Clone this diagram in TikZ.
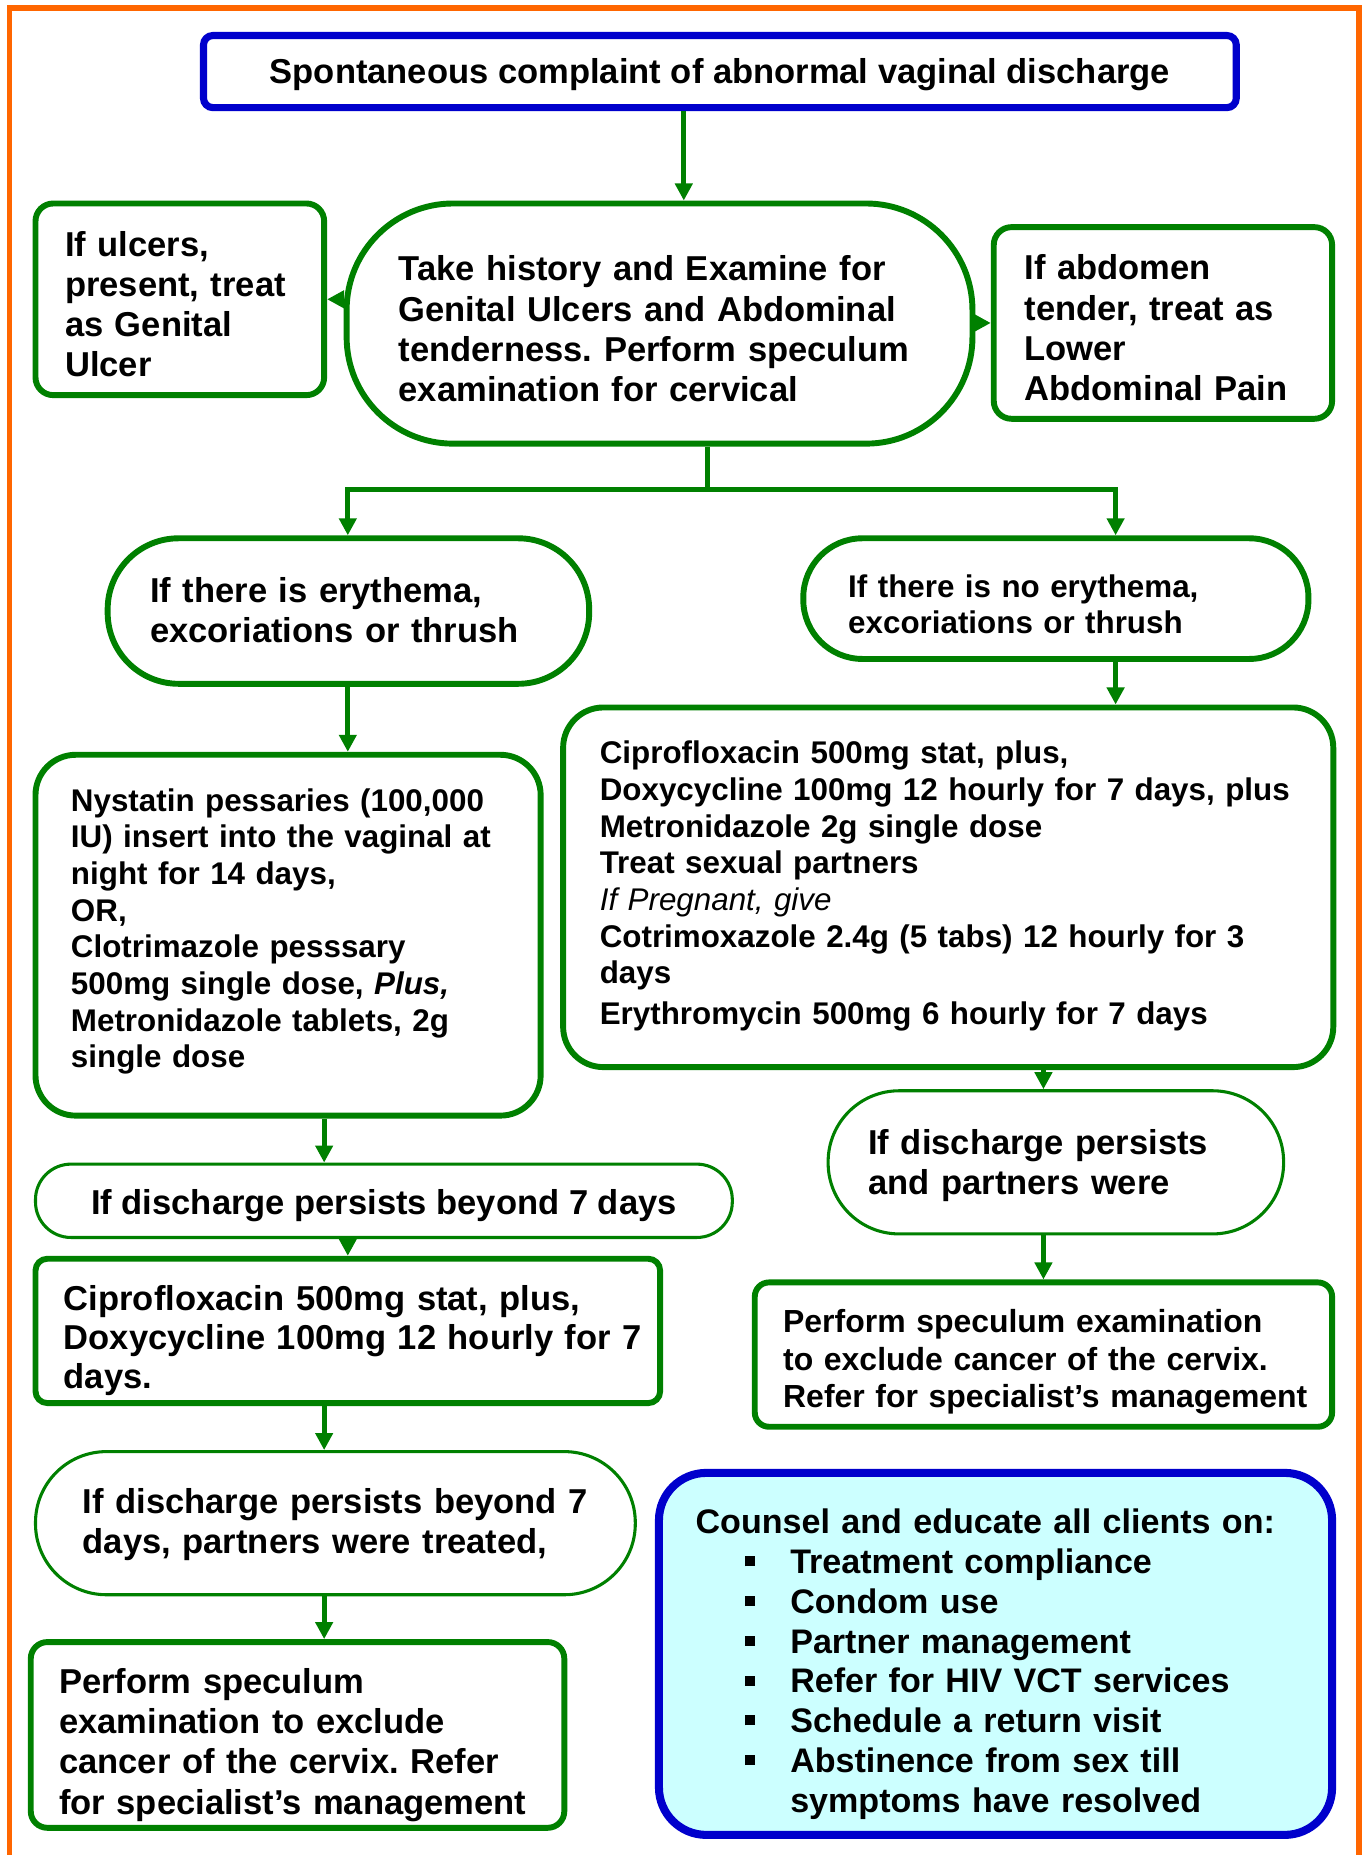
\documentclass[tikz,border=0pt]{standalone}
\usepackage{fontspec}
\setmainfont{Liberation Sans}
\usetikzlibrary{arrows.meta}
\definecolor{dgreen}{HTML}{008000}
\definecolor{dblue}{HTML}{0000CC}
\definecolor{lcyan}{HTML}{CCFFFF}
\definecolor{frameor}{HTML}{FF6600}
\newcommand\FBig{\fontsize{14.6}{17}\selectfont\bfseries}
\newcommand\FSml{\fontsize{13.25}{15.5}\selectfont\bfseries}
\newcommand\Bul{\hspace*{21pt}\makebox[19pt][l]{\rule[3pt]{4pt}{4.3pt}}}
\newcommand\Lines[1]{\begin{tabular}[t]{@{}l@{}}#1\end{tabular}}
\begin{document}
\frenchspacing
\begin{tikzpicture}[x=0.5pt,y=-0.5pt,
  thickbox/.style={draw=dgreen, line width=2.5pt, align=left, inner ysep=0pt},
  thinbox/.style={draw=dgreen, line width=1.3pt, align=left, inner ysep=0pt},
  conn/.style={draw=dgreen, line width=2pt},
  arr/.style={conn, -{Triangle[length=7.2pt,width=7.2pt]}},
  frame/.style={draw=frameor, line width=2.4pt}
]
\useasboundingbox (0,0) rectangle (1151,1568);
\draw[frame] (8,1580) -- (8,7) -- (1149,7) -- (1149,1580);

\node[draw=dblue, line width=3pt, rounded corners=4pt, minimum width=436.5pt, minimum height=30.5pt, inner sep=0pt, font=\FBig, text height=13.5pt, text depth=3.5pt]
  (A) at (608.5,60.5) {Spontaneous complaint of abnormal vaginal discharge};

\node[thickbox, rounded corners=45pt, minimum width=264.5pt, minimum height=101.5pt, inner xsep=22pt, text width=220.5pt, font=\FBig, text height=18.5pt, text depth=54.5pt]
  (B) at (557.5,273.5) {\Lines{Take history and Examine for\\Genital Ulcers and Abdominal\\tenderness. Perform speculum\\examination for cervical}};

\node[thickbox, rounded corners=7.5pt, minimum width=122pt, minimum height=81pt, inner xsep=12.5pt, text width=97pt, font=\FBig, text height=18pt, text depth=54.5pt]
  (C) at (152,253) {\Lines{If ulcers,\\present, treat\\as Genital\\Ulcer}};

\node[thickbox, rounded corners=7.5pt, minimum width=143pt, minimum height=81pt, inner xsep=13pt, text width=117pt, font=\FBig, text height=18pt, text depth=54.5pt]
  (D) at (983,273) {\Lines{If abdomen\\tender, treat as\\Lower\\Abdominal Pain}};

\node[thickbox, rounded corners=30pt, minimum width=203.5pt, minimum height=61.5pt, inner xsep=18pt, text width=167.5pt, font=\FBig, text height=13.5pt, text depth=20.5pt]
  (E) at (294.5,516.5) {\Lines{If there is erythema,\\excoriations or thrush}};

\node[thickbox, rounded corners=25pt, minimum width=213.5pt, minimum height=51pt, inner xsep=19pt, text width=175.5pt, font=\FSml, text height=17.7pt, text depth=19pt]
  (F) at (892.5,506) {\Lines{If there is no erythema,\\excoriations or thrush}};

\node[thickbox, rounded corners=17pt, minimum width=213.5pt, minimum height=152.5pt, inner xsep=15pt, text width=183.5pt, font=\FSml, text height=7.2pt, text depth=112pt]
  (G) at (243.5,790.5) {\Lines{Nystatin pessaries (100,000\\IU) insert into the vaginal at\\night for 14 days,\\OR,\\Clotrimazole pesssary\\500mg single dose, \textit{Plus,}\\Metronidazole tablets, 2g\\single dose}};

\node[thickbox, rounded corners=17pt, minimum width=325.5pt, minimum height=152pt, inner xsep=15.5pt, text width=294.5pt, font=\FSml, text height=9.2pt, text depth=113.5pt]
  (H) at (801.5,750) {\Lines{Ciprofloxacin 500mg stat, plus,\\Doxycycline 100mg 12 hourly for 7 days, plus\\Metronidazole 2g single dose\\Treat sexual partners\\{\mdseries\itshape If Pregnant, give}\\Cotrimoxazole 2.4g (5 tabs) 12 hourly for 3\\days\\[1.5pt]Erythromycin 500mg 6 hourly for 7 days}};

\node[thinbox, rounded corners=30pt, minimum width=192.5pt, minimum height=60.5pt, inner xsep=17pt, text width=158.5pt, font=\FBig, text height=13.5pt, text depth=20.5pt]
  (I) at (892.5,982.5) {\Lines{If discharge persists\\and partners were}};

\node[thickbox, rounded corners=6pt, minimum width=244pt, minimum height=61pt, inner xsep=12pt, text width=220pt, font=\fontsize{13.5}{15.75}\selectfont\bfseries, text height=16.7pt, text depth=35pt]
  (J) at (882,1145) {\Lines{Perform speculum examination\\to exclude cancer of the cervix.\\Refer for specialist’s management}};

\node[thinbox, rounded corners=15pt, minimum width=294.5pt, minimum height=31pt, inner xsep=0pt, align=center, font=\FBig, text height=15pt, text depth=3.5pt]
  (K) at (324.5,1015) {If discharge persists beyond 7 days};

\node[thickbox, rounded corners=5pt, minimum width=264pt, minimum height=61pt, inner xsep=12pt, text width=240pt, font=\fontsize{14.6}{16.5}\selectfont\bfseries, text height=19pt, text depth=36.5pt]
  (L) at (294,1125) {\Lines{Ciprofloxacin 500mg stat, plus,\\Doxycycline 100mg 12 hourly for 7\\days.}};

\node[thinbox, rounded corners=30pt, minimum width=253.5pt, minimum height=60.5pt, inner xsep=20pt, text width=213.5pt, font=\FBig, text height=12.5pt, text depth=20.5pt]
  (M) at (283.5,1287.5) {\Lines{If discharge persists beyond 7\\days, partners were treated,}};

\node[thickbox, rounded corners=7pt, minimum width=225.5pt, minimum height=78.5pt, inner xsep=12pt, text width=201.5pt, font=\FBig, text height=19.5pt, text depth=54.5pt]
  (N) at (251.5,1466.5) {\Lines{Perform speculum\\examination to exclude\\cancer of the cervix. Refer\\for specialist’s management}};

\node[draw=dblue, fill=lcyan, line width=3.4pt, rounded corners=20pt, minimum width=284.5pt, minimum height=153pt, inner xsep=15.5pt, inner ysep=0pt, text width=253.5pt, align=left, font=\fontsize{14.4}{16.8}\selectfont\bfseries, text height=19.6pt, text depth=121.1pt]
  (O) at (841.5,1398) {\Lines{Counsel and educate all clients on:\\\Bul Treatment compliance\\\Bul Condom use\\\Bul Partner management\\\Bul Refer for HIV VCT services\\\Bul Schedule a return visit\\\Bul Abstinence from sex till\\\hspace*{40pt}symptoms have resolved}};

% connectors
\coordinate (topx) at (578,0);
\coordinate (split) at (598,414);
\coordinate (lb) at (294,414);
\coordinate (rb) at (943,414);
\coordinate (rx) at (882,0);
\coordinate (lx) at (274,0);

\draw[arr] (A.south -| topx) -- (B.north -| topx);
\draw[arr] (B.west |- C.east) -- (C.east);
\draw[arr] (B.east |- D.west) -- (D.west);
\draw[conn] (B.south -| split) -- (split);
\draw[arr] (split) -| (E.north -| lb);
\draw[arr] (split) -| (F.north -| rb);
\draw[arr] (E.south -| lb) -- (G.north -| lb);
\draw[arr] (F.south -| rb) -- (H.north -| rb);
\draw[arr] (H.south -| rx) -- (I.north -| rx);
\draw[arr] (I.south -| rx) -- (J.north -| rx);
\draw[arr] (G.south -| lx) -- (K.north -| lx);
\draw[arr] (K.south -| lb) -- (L.north -| lb);
\draw[arr] (L.south -| lx) -- (M.north -| lx);
\draw[arr] (M.south -| lx) -- (N.north -| lx);
\end{tikzpicture}
\end{document}
